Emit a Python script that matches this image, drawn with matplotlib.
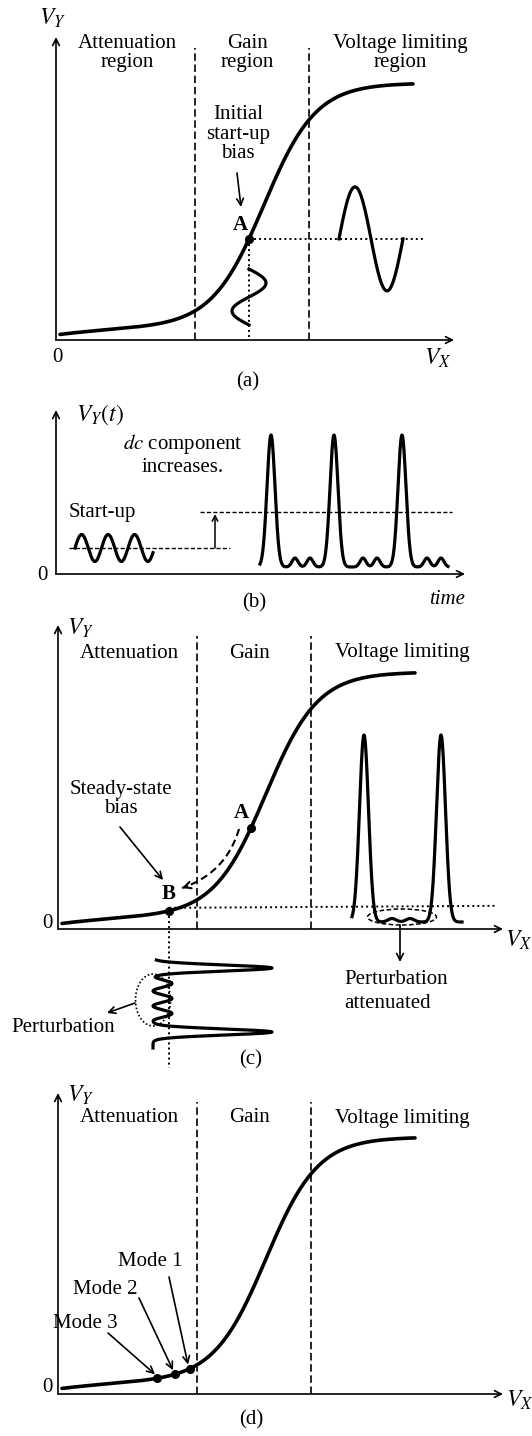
import numpy as np
import matplotlib.pyplot as plt
from matplotlib.patches import Ellipse

# ---- chart values (units: pixels of the drawing, measured from each axis origin)
REGION_LABELS_A = ["Attenuation\nregion", "Gain\nregion", "Voltage limiting\nregion"]
REGION_LABELS = ["Attenuation", "Gain", "Voltage limiting"]
REGION_CENTERS = [71, 191, 344]
REGION_BOUNDS = [139, 253]

# transfer curve V_Y(V_X): soft tail + logistic step
CURVE_RANGE = [4, 357]
SIG_BASE, SIG_TAIL, SIG_TAIL_SCALE = 5, 10, 80
SIG_HEIGHT, SIG_MID, SIG_WIDTH = 242, 208, 26

# (a) start-up bias point and small-signal waves
A_X = 193
IN_WAVE = dict(top=71, bottom=15, amp=17)
OUT_WAVE = dict(start=283, period=64, amp=52)

# (b) time waveform
STARTUP = dict(start=19, end=97, level=26, amp=13.5, period=26.5)
DC_LEVEL_B = 62
PULSE_PEAKS_B = [215, 278, 346]
RIPPLES_B = [239, 254, 307, 321, 371, 385]
PULSE_RANGE_B = [204, 392]

# (c) steady state
B_X = 111
PULSE_PEAKS_C = [306, 383]
RIPPLES_C = [334, 352]
PULSE_RANGE_C = [294, 404]
BOTTOM_PULSES_C = [-39, -103]
BOTTOM_RANGE_C = [-31, -119]

# (d) modes
MODE_NAMES = ["Mode 1", "Mode 2", "Mode 3"]
MODE_X = [132, 117, 99]

W, H = 532, 1436
FS = 15
plt.rcParams['font.family'] = ['Liberation Serif', 'DejaVu Serif']
plt.rcParams['mathtext.fontset'] = 'stix'

DASH = (0, (4.5, 2.2))
DOT = (0, (1, 1.6))


def curve(x):
    x = np.asarray(x, float)
    return (SIG_BASE + SIG_TAIL * (1 - np.exp(-x / SIG_TAIL_SCALE))
            + SIG_HEIGHT / (1 + np.exp(-(x - SIG_MID) / SIG_WIDTH)))


def gauss(t, centers, amp, sig):
    t = np.asarray(t, float)
    return sum(amp * np.exp(-(t - c) ** 2 / (2 * sig ** 2)) for c in centers)


def panel(fig, top, bottom, ox, oy):
    ax = fig.add_axes([0, 1 - bottom / H, 1, (bottom - top) / H])
    ax.set_xlim(-ox, W - ox)
    ax.set_ylim(oy - bottom, oy - top)
    ax.axis('off')
    return ax


def arrow(ax, start, end, lw=1.2, ms=12):
    ax.annotate('', xy=end, xytext=start,
                arrowprops=dict(arrowstyle='->', lw=lw, color='k',
                                shrinkA=0, shrinkB=0, mutation_scale=ms))


def frame(ax, xlen, ylen):
    arrow(ax, (0, 0), (xlen, 0))
    arrow(ax, (0, 0), (0, ylen))


def regions(ax, top, labels, label_y):
    for b in REGION_BOUNDS:
        ax.plot([b, b], [0, top], ls=DASH, lw=1.2, color='k')
    for lab, xc in zip(labels, REGION_CENTERS):
        ax.text(xc, label_y, lab, ha='center', va='center', fontsize=FS,
                linespacing=1.05)


def transfer(ax):
    xs = np.linspace(CURVE_RANGE[0], CURVE_RANGE[1], 400)
    ax.plot(xs, curve(xs), lw=2.6, color='k', solid_capstyle='round')


fig = plt.figure(figsize=(W / 100, H / 100), dpi=100)

# ---------------- (a)
ax = panel(fig, 0, 395, 56, 340)
frame(ax, 398, 303)
regions(ax, 292, REGION_LABELS_A, 287)
transfer(ax)
a_y = float(curve(A_X))
ax.plot([A_X, 367], [a_y, a_y], ls=DOT, lw=1.4, color='k')
ax.plot([A_X, A_X], [a_y, 0], ls=DOT, lw=1.4, color='k')
ax.plot([A_X], [a_y], 'o', ms=5.5, color='k')
ax.text(A_X - 9, a_y + 14, 'A', ha='center', va='center', fontsize=FS,
        fontweight='bold')
ax.text(182, 206, 'Initial\nstart-up\nbias', ha='center', va='center',
        fontsize=FS, linespacing=1.05)
arrow(ax, (181, 167), (185, 133))
ty = np.linspace(IN_WAVE['top'], IN_WAVE['bottom'], 100)
ax.plot(A_X + IN_WAVE['amp'] * np.sin(2 * np.pi * (IN_WAVE['top'] - ty)
                                      / (IN_WAVE['top'] - IN_WAVE['bottom'])),
        ty, lw=2.3, color='k')
tx = np.linspace(OUT_WAVE['start'], OUT_WAVE['start'] + OUT_WAVE['period'], 120)
ax.plot(tx, a_y + OUT_WAVE['amp'] * np.sin(2 * np.pi * (tx - OUT_WAVE['start'])
                                           / OUT_WAVE['period']),
        lw=2.3, color='k')
ax.text(-4, 322, '$V_Y$', ha='center', va='center', fontsize=17)
ax.text(1, -18, '0', ha='center', va='center', fontsize=FS)
ax.text(382, -18, '$V_X$', ha='center', va='center', fontsize=17)
ax.text(192, -42, '(a)', ha='center', va='center', fontsize=FS)

# ---------------- (b)
ax = panel(fig, 395, 612, 56, 574)
frame(ax, 409, 164)
ax.plot([13, 174], [STARTUP['level']] * 2, ls=(0, (3, 1.6)), lw=1.0, color='k')
ax.plot([144, 396], [DC_LEVEL_B] * 2, ls=(0, (3, 1.6)), lw=1.0, color='k')
arrow(ax, (159, STARTUP['level']), (159, DC_LEVEL_B - 2), lw=1.1, ms=10)
ts = np.linspace(STARTUP['start'], STARTUP['end'], 200)
ax.plot(ts, STARTUP['level'] + STARTUP['amp'] * np.sin(
    2 * np.pi * (ts - STARTUP['start']) / STARTUP['period']), lw=2.3, color='k')
tp = np.linspace(PULSE_RANGE_B[0], PULSE_RANGE_B[1], 800)
ax.plot(tp, 7 + gauss(tp, PULSE_PEAKS_B, 132, 4.0) + gauss(tp, RIPPLES_B, 9, 3.0),
        lw=2.3, color='k')
ax.text(20, 159, '$V_Y(t)$', ha='left', va='center', fontsize=17)
ax.text(127, 130, '$dc$ component', ha='center', va='center', fontsize=FS)
ax.text(127, 106, 'increases.', ha='center', va='center', fontsize=FS)
ax.text(13, 62, 'Start-up', ha='left', va='center', fontsize=FS)
ax.text(-14, -1, '0', ha='center', va='center', fontsize=FS)
ax.text(391, -26, 'time', ha='center', va='center', fontsize=FS,
        fontstyle='italic')
ax.text(198, -29, '(b)', ha='center', va='center', fontsize=FS)

# ---------------- (c)
ax = panel(fig, 612, 1075, 58, 929)
frame(ax, 445, 304)
regions(ax, 293, REGION_LABELS, 276)
transfer(ax)
ca_y = float(curve(A_X))
b_y = float(curve(B_X))
ax.plot([A_X], [ca_y], 'o', ms=5.5, color='k')
ax.plot([B_X], [b_y], 'o', ms=5.5, color='k')
ax.text(A_X - 10, ca_y + 15, 'A', ha='center', va='center', fontsize=FS,
        fontweight='bold')
ax.text(B_X, b_y + 17, 'B', ha='center', va='center', fontsize=FS,
        fontweight='bold')
# dashed path A -> B
p0, c0, p2 = np.array([181, 100]), np.array([168, 56]), np.array([124, 41])
s = np.linspace(0, 1, 60)[:, None]
bez = (1 - s) ** 2 * p0 + 2 * (1 - s) * s * c0 + s ** 2 * p2
ax.plot(bez[:, 0], bez[:, 1], ls=(0, (3.5, 2)), lw=1.5, color='k')
arrow(ax, tuple(p2 + 0.12 * (c0 - p2)), tuple(p2), lw=1.5, ms=12)
ax.text(63, 130, 'Steady-state\nbias', ha='center', va='center', fontsize=FS,
        linespacing=1.05)
arrow(ax, (62, 102), (105, 49))
ax.plot([B_X, 439], [b_y + 3, b_y + 5], ls=DOT, lw=1.4, color='k')
ax.plot([B_X, B_X], [b_y, -139], ls=DOT, lw=1.4, color='k')
tp = np.linspace(PULSE_RANGE_C[0], PULSE_RANGE_C[1], 600)
ax.plot(tp, 7 + gauss(tp, PULSE_PEAKS_C, 187, 4.5) + gauss(tp, RIPPLES_C, 3.5, 4.0),
        lw=2.3, color='k')
ax.add_patch(Ellipse((344, 12), 69, 16, fill=False, ls=(0, (3, 1.6)), lw=1.1))
arrow(ax, (342, 4), (342, -33))
ax.text(286, -51, 'Perturbation', ha='left', va='center', fontsize=FS)
ax.text(286, -74, 'attenuated', ha='left', va='center', fontsize=FS)
# perturbed input drawn along a downward time axis
tv = np.linspace(BOTTOM_RANGE_C[0], BOTTOM_RANGE_C[1], 800)
ripple = np.where((tv <= -47) & (tv >= -92),
                  9.5 * (1 - np.cos(2 * np.pi * (tv + 47) / 15)), 0)
ax.plot(95 + gauss(tv, BOTTOM_PULSES_C, 119, 3.0) + ripple, tv, lw=2.3,
        color='k')
ax.add_patch(Ellipse((95, -71), 35, 52, fill=False, ls=(0, (1, 1.3)), lw=1.2))
arrow(ax, (77, -74), (49, -84))
ax.text(5, -98, 'Perturbation', ha='center', va='center', fontsize=FS)
ax.text(22, 301, '$V_Y$', ha='center', va='center', fontsize=17)
ax.text(-11, 6, '0', ha='center', va='center', fontsize=FS)
ax.text(461, -11, '$V_X$', ha='center', va='center', fontsize=17)
ax.text(193, -131, '(c)', ha='center', va='center', fontsize=FS)

# ---------------- (d)
ax = panel(fig, 1075, 1436, 58, 1394)
frame(ax, 445, 301)
regions(ax, 292, REGION_LABELS, 276)
transfer(ax)
label_pos = [(92, 132), (47, 104), (27, 71)]
arrow_start = [(111, 117), (81, 96), (50, 61)]
for name, mx, lp, st in zip(MODE_NAMES, MODE_X, label_pos, arrow_start):
    my = float(curve(mx))
    ax.plot([mx], [my], 'o', ms=5.5, color='k')
    ax.text(lp[0], lp[1], name, ha='center', va='center', fontsize=FS)
    arrow(ax, st, (mx - 2, my + 4))
ax.text(22, 299, '$V_Y$', ha='center', va='center', fontsize=17)
ax.text(-11, 6, '0', ha='center', va='center', fontsize=FS)
ax.text(462, -6, '$V_X$', ha='center', va='center', fontsize=17)
ax.text(193, -26, '(d)', ha='center', va='center', fontsize=FS)

fig.savefig('out.png', dpi=100, facecolor='white')
